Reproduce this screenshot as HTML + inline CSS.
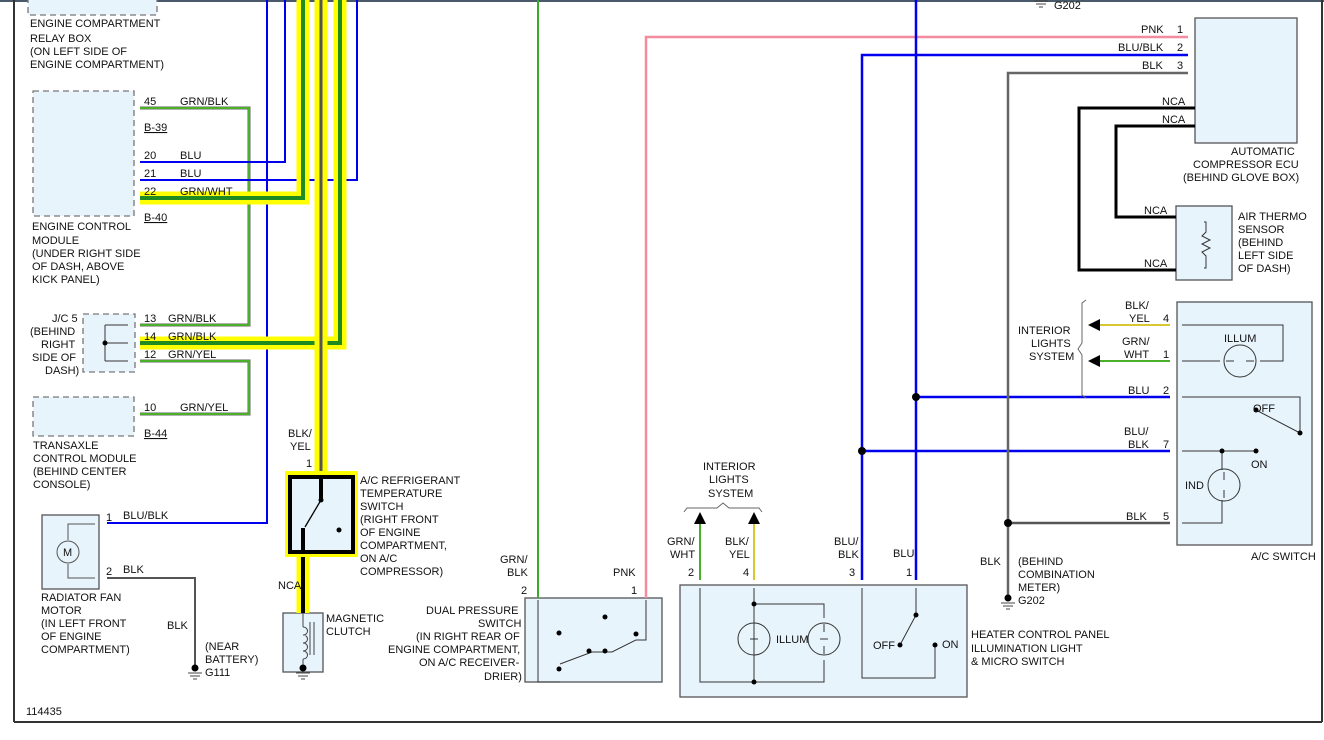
<!DOCTYPE html>
<html><head><meta charset="utf-8"><style>
body{margin:0;background:#fff}
svg{display:block}
text{font-family:"Liberation Sans",sans-serif;font-size:11px;fill:#111}
</style></head><body>
<svg width="1324" height="740" viewBox="0 0 1324 740">
<rect x="0" y="0" width="1324" height="2" fill="#4a5a6a"/>
<line x1="14" y1="0" x2="14" y2="722" stroke="#333" stroke-width="2"/>
<line x1="14" y1="722" x2="1322" y2="722" stroke="#333" stroke-width="2"/>
<line x1="1322" y1="0" x2="1322" y2="722" stroke="#333" stroke-width="2"/>

<g fill="#e8f4fc" stroke="#777" stroke-width="1.3">
<rect x="28" y="-5" width="129" height="20" stroke-dasharray="6,4"/>
<rect x="33" y="91" width="101" height="125" stroke-dasharray="6,4"/>
<rect x="83" y="314" width="52" height="58" stroke-dasharray="6,4"/>
<rect x="33" y="397" width="101" height="39" stroke-dasharray="6,4"/>
<rect x="42" y="515" width="57" height="74" stroke="#555"/>
<rect x="283" y="613" width="40" height="59" stroke="#555"/>
<rect x="525" y="598" width="137" height="84" stroke="#555"/>
<rect x="680" y="585" width="287" height="112" stroke="#555"/>
<rect x="1195" y="18" width="102" height="125" stroke="#555"/>
<rect x="1176" y="206" width="56" height="74" stroke="#555"/>
<rect x="1177" y="302" width="135" height="243" stroke="#555"/>
</g>

<g fill="none" stroke-linejoin="miter">
<path d="M140,108 H249 V325 H140" stroke="#666" stroke-width="3"/>
<path d="M140,108 H249 V325 H140" stroke="#4caf2a" stroke-width="2"/>
<path d="M140,361 H249 V414 H140" stroke="#666" stroke-width="3"/>
<path d="M140,361 H249 V414 H140" stroke="#4caf2a" stroke-width="2"/>
<path d="M267,0 V523 H107" stroke="#0000ee" stroke-width="2"/>
<path d="M285,0 V162 H140" stroke="#0000ee" stroke-width="2"/>
<path d="M357,0 V180 H140" stroke="#0000ee" stroke-width="2"/>
<path d="M303,0 V198 H140" stroke="#ffff00" stroke-width="13"/>
<path d="M303,0 V198 H140" stroke="#1f8a1f" stroke-width="4"/>
<path d="M340,0 V343 H140" stroke="#ffff00" stroke-width="13"/>
<path d="M340,0 V343 H140" stroke="#1f8a1f" stroke-width="4"/>
<path d="M321,0 V478" stroke="#ffff00" stroke-width="13"/>
<path d="M321,0 V478" stroke="#555" stroke-width="3"/>
<path d="M303,556 V613" stroke="#ffff00" stroke-width="13"/>
<path d="M303,556 V613" stroke="#000" stroke-width="4"/>
<path d="M107,578 H195 V668" stroke="#555" stroke-width="2"/>
<path d="M538,0 V598" stroke="#3aaa2a" stroke-width="2"/>
<path d="M646,598 V37 H1188" stroke="#f48ca0" stroke-width="2.5"/>
<path d="M862,580 V55 H1188" stroke="#0000ee" stroke-width="2.5"/>
<path d="M916,0 V580" stroke="#0000ee" stroke-width="2.5"/>
<path d="M916,397 H1170" stroke="#0000ee" stroke-width="2.5"/>
<path d="M862,451 H1170" stroke="#0000ee" stroke-width="2.5"/>
<path d="M1008,598 V73 H1188" stroke="#666" stroke-width="2.5"/>
<path d="M1008,523 H1170" stroke="#555" stroke-width="2.5"/>
<path d="M1195,108 H1079 V270 H1176" stroke="#000" stroke-width="3"/>
<path d="M1195,126 H1116 V217 H1176" stroke="#000" stroke-width="3"/>
<path d="M1094,325 H1170" stroke="#d8c830" stroke-width="2"/>
<path d="M1094,361 H1170" stroke="#4caf2a" stroke-width="2"/>
<path d="M700,580 V520" stroke="#4caf2a" stroke-width="2"/>
<path d="M754,580 V520" stroke="#d8c830" stroke-width="2"/>
</g>
<g fill="#000">
<circle cx="916" cy="397" r="4"/><circle cx="862" cy="451" r="4"/><circle cx="1008" cy="523" r="4"/>
<polygon points="1088,325 1100,319 1100,331"/><polygon points="1088,361 1100,355 1100,367"/>
<polygon points="700,512 694,524 706,524"/><polygon points="754,512 748,524 760,524"/>
</g>

<rect x="285" y="471" width="73" height="86" fill="#ffff00"/>
<rect x="290" y="477" width="63" height="75" fill="#e8f4fc" stroke="#000" stroke-width="4"/>
<g stroke="#000" fill="none"><path d="M321,477 V500" stroke-width="4"/><path d="M321,500 L305,527" stroke-width="1.3"/><path d="M303,528 V552" stroke-width="4"/></g>
<circle cx="321" cy="500" r="2.5"/><circle cx="339" cy="530" r="2.5"/>
<path d="M303,627 c6,0 6,8 0,8 c6,0 6,8 0,8 c6,0 6,8 0,8 c6,0 6,8 0,8 M303,613V627 M303,659V665 M310,622V655 M314,622V655" stroke="#444" fill="none"/>
<circle cx="303" cy="668" r="3.5"/>
<path d="M296,673H310 M298,676H308 M301,679H305" stroke="#444"/>
<path d="M68,540 V524 H95 M68,564 V578 H95" stroke="#555" fill="none"/>
<circle cx="68" cy="552" r="11" fill="#e8f4fc" stroke="#555"/><text x="63" y="556" font-size="11">M</text>
<circle cx="195" cy="668" r="3.5"/><path d="M188,673H202 M190,676H200 M193,679H197" stroke="#444"/>
<circle cx="1008" cy="598" r="3.5"/><path d="M1001,603H1015 M1003,606H1013 M1006,609H1010" stroke="#444"/>
<path d="M1034,1H1048 M1036,4H1046 M1039,7H1043" stroke="#444"/>
<path d="M105,325 H128 M105,343 H128 M105,361 H128 M105,325 V361" stroke="#333" fill="none"/><circle cx="105" cy="343" r="2.5"/>
<g stroke="#333" fill="none"><path d="M538,600 V682 H560 M646,600 V640 H636"/><path d="M636,640 L612,652 H602 L592,652 L560,664"/></g>
<g fill="#000"><circle cx="559" cy="633" r="2.5"/><circle cx="605" cy="617" r="2.5"/><circle cx="636" cy="634" r="2.5"/><circle cx="589" cy="651" r="2.5"/><circle cx="605" cy="651" r="2.5"/><circle cx="559" cy="669" r="2.5"/></g>
<g stroke="#333" fill="none">
<path d="M700,588 V682 H824 V660 M754,588 V682 M754,604 H824 V618 M862,588 V678 H935 V645 M916,588 V615 L900,645"/>
<circle cx="754" cy="639" r="16"/><circle cx="824" cy="639" r="16"/>
<path d="M754,624 v8 m0,14 v8 M824,624 v8 m0,14 v8 M750,639 h8 M820,639 h8"/>
<path d="M1182,325 H1283 V361 H1260 M1182,361 H1220 M1182,397 H1300 V433 L1256,410 M1182,451 H1256 M1222,451 V470 M1222,500 V523 H1182"/>
<circle cx="1240" cy="361" r="16"/><circle cx="1224" cy="485" r="16"/>
<path d="M1226,361 h8 m12,0 h8 M1224,472 v8 m0,10 v8"/>
<path d="M1204,222 H1206 V232 l-4,4 8,4 -8,4 8,4 -8,4 4,4 V268 H1204"/>
</g>
<g fill="#000"><circle cx="754" cy="604" r="2.5"/><circle cx="754" cy="682" r="2.5"/><circle cx="916" cy="615" r="2.5"/><circle cx="900" cy="645" r="2.5"/><circle cx="935" cy="645" r="2.5"/><circle cx="1256" cy="410" r="2.5"/><circle cx="1300" cy="433" r="2.5"/><circle cx="1222" cy="451" r="2.5"/><circle cx="1256" cy="451" r="2.5"/></g>
<path d="M1086,300 l-4,3 v40 l-4,6 4,6 v40 l4,3 M684,512 l3,-4 h30 l6,-5 6,5 h30 l3,4" stroke="#666" fill="none"/>

<text x="30" y="27">ENGINE COMPARTMENT</text><text x="30" y="42">RELAY BOX</text><text x="30" y="55">(ON LEFT SIDE OF</text><text x="30" y="68">ENGINE COMPARTMENT)</text>
<text x="144" y="105">45</text><text x="180" y="105">GRN/BLK</text><text x="144" y="131" text-decoration="underline">B-39</text>
<text x="144" y="159">20</text><text x="180" y="159">BLU</text><text x="144" y="177">21</text><text x="180" y="177">BLU</text>
<text x="144" y="195">22</text><text x="180" y="195">GRN/WHT</text><text x="144" y="221" text-decoration="underline">B-40</text>
<text x="32" y="230">ENGINE CONTROL</text><text x="32" y="244">MODULE</text><text x="32" y="257">(UNDER RIGHT SIDE</text><text x="32" y="270">OF DASH, ABOVE</text><text x="32" y="283">KICK PANEL)</text>
<text x="144" y="322">13</text><text x="168" y="322">GRN/BLK</text><text x="144" y="340">14</text><text x="168" y="340">GRN/BLK</text><text x="144" y="358">12</text><text x="168" y="358">GRN/YEL</text>
<text x="52" y="322">J/C 5</text><text x="30" y="335">(BEHIND</text><text x="41" y="348">RIGHT</text><text x="32" y="361">SIDE OF</text><text x="45" y="374">DASH)</text>
<text x="144" y="411">10</text><text x="180" y="411">GRN/YEL</text><text x="144" y="437" text-decoration="underline">B-44</text>
<text x="33" y="449">TRANSAXLE</text><text x="33" y="462">CONTROL MODULE</text><text x="33" y="475">(BEHIND CENTER</text><text x="33" y="488">CONSOLE)</text>
<text x="106" y="521">1</text><text x="123" y="519">BLU/BLK</text><text x="106" y="575">2</text><text x="123" y="573">BLK</text>
<text x="41" y="601">RADIATOR FAN</text><text x="41" y="614">MOTOR</text><text x="41" y="627">(IN LEFT FRONT</text><text x="41" y="640">OF ENGINE</text><text x="41" y="653">COMPARTMENT)</text>
<text x="167" y="629">BLK</text><text x="205" y="650">(NEAR</text><text x="205" y="663">BATTERY)</text><text x="205" y="676">G111</text>
<text x="26" y="715">114435</text>
<text x="288" y="437">BLK/</text><text x="290" y="450">YEL</text><text x="306" y="467">1</text>
<text x="360" y="484">A/C REFRIGERANT</text><text x="360" y="497">TEMPERATURE</text><text x="360" y="510">SWITCH</text><text x="360" y="523">(RIGHT FRONT</text><text x="360" y="536">OF ENGINE</text><text x="360" y="549">COMPARTMENT,</text><text x="360" y="562">ON A/C</text><text x="360" y="575">COMPRESSOR)</text>
<text x="278" y="589">NCA</text><text x="326" y="622">MAGNETIC</text><text x="326" y="635">CLUTCH</text>
<text x="500" y="563">GRN/</text><text x="507" y="576">BLK</text><text x="521" y="594">2</text><text x="613" y="576">PNK</text><text x="631" y="594">1</text>
<text x="426" y="614">DUAL PRESSURE</text><text x="478" y="627">SWITCH</text><text x="416" y="640">(IN RIGHT REAR OF</text><text x="388" y="653">ENGINE COMPARTMENT,</text><text x="419" y="666">ON A/C RECEIVER-</text><text x="484" y="680">DRIER)</text>
<text x="703" y="470">INTERIOR</text><text x="709" y="483">LIGHTS</text><text x="708" y="497">SYSTEM</text>
<text x="667" y="545">GRN/</text><text x="670" y="558">WHT</text><text x="725" y="545">BLK/</text><text x="729" y="558">YEL</text><text x="688" y="576">2</text><text x="743" y="576">4</text>
<text x="834" y="545">BLU/</text><text x="838" y="558">BLK</text><text x="893" y="557">BLU</text><text x="849" y="576">3</text><text x="906" y="576">1</text>
<text x="776" y="643">ILLUM</text><text x="873" y="649">OFF</text><text x="942" y="648">ON</text>
<text x="971" y="638">HEATER CONTROL PANEL</text><text x="971" y="652">ILLUMINATION LIGHT</text><text x="971" y="665">&amp; MICRO SWITCH</text>
<text x="980" y="565">BLK</text><text x="1018" y="565">(BEHIND</text><text x="1018" y="578">COMBINATION</text><text x="1018" y="591">METER)</text><text x="1018" y="604">G202</text>
<text x="1054" y="9">G202</text>
<text x="1141" y="33">PNK</text><text x="1177" y="33">1</text><text x="1118" y="51">BLU/BLK</text><text x="1177" y="51">2</text><text x="1142" y="69">BLK</text><text x="1177" y="69">3</text>
<text x="1162" y="105">NCA</text><text x="1162" y="123">NCA</text><text x="1144" y="214">NCA</text><text x="1144" y="267">NCA</text>
<text x="1231" y="155">AUTOMATIC</text><text x="1193" y="168">COMPRESSOR ECU</text><text x="1183" y="181">(BEHIND GLOVE BOX)</text>
<text x="1238" y="220">AIR THERMO</text><text x="1238" y="233">SENSOR</text><text x="1238" y="246">(BEHIND</text><text x="1238" y="259">LEFT SIDE</text><text x="1238" y="272">OF DASH)</text>
<text x="1125" y="309">BLK/</text><text x="1129" y="322">YEL</text><text x="1163" y="322">4</text><text x="1122" y="345">GRN/</text><text x="1124" y="358">WHT</text><text x="1163" y="358">1</text>
<text x="1018" y="334">INTERIOR</text><text x="1031" y="347">LIGHTS</text><text x="1029" y="360">SYSTEM</text>
<text x="1224" y="342">ILLUM</text><text x="1128" y="394">BLU</text><text x="1163" y="394">2</text><text x="1253" y="412">OFF</text>
<text x="1124" y="435">BLU/</text><text x="1128" y="448">BLK</text><text x="1163" y="448">7</text><text x="1251" y="468">ON</text><text x="1185" y="489">IND</text>
<text x="1126" y="520">BLK</text><text x="1163" y="520">5</text><text x="1251" y="560">A/C SWITCH</text>
</svg>
</body></html>
